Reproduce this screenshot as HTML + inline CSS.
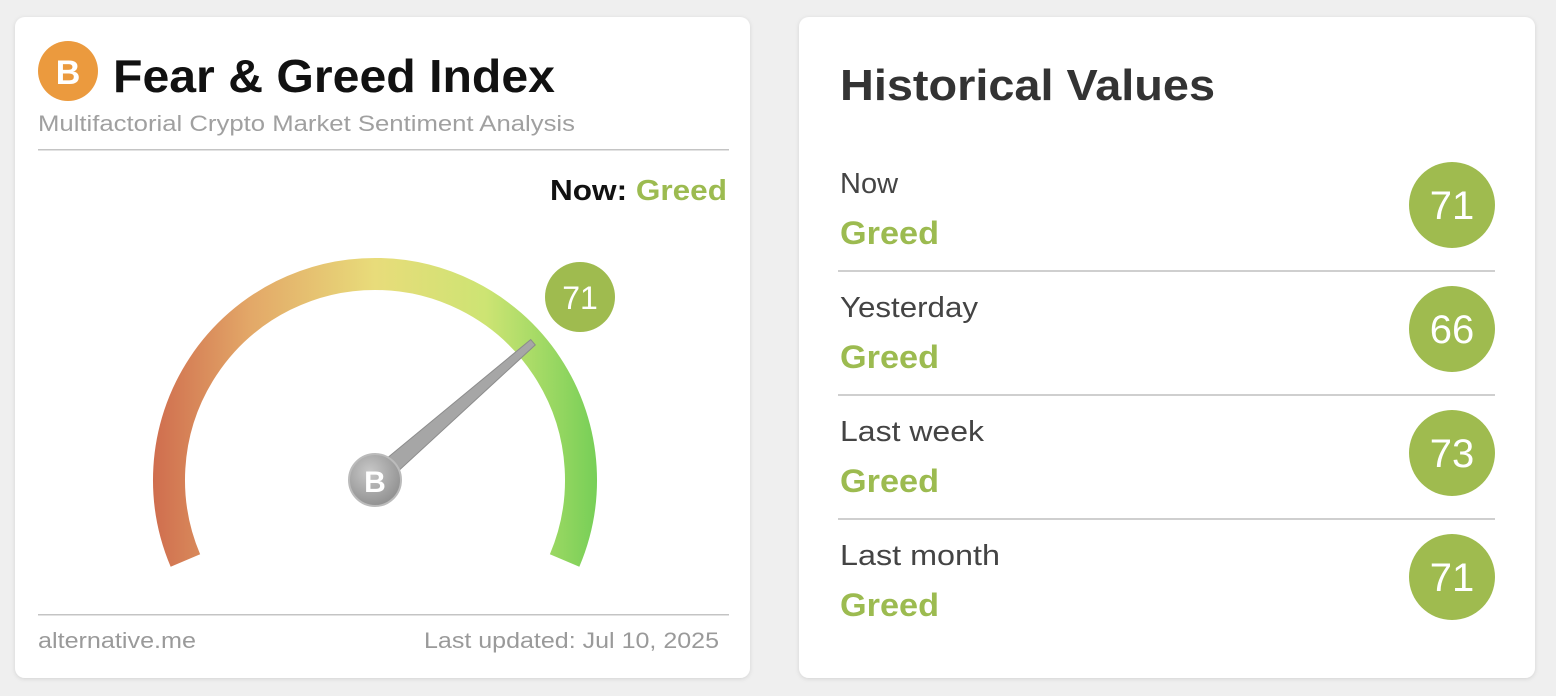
<!DOCTYPE html>
<html><head><meta charset="utf-8"><style>
html,body{margin:0;padding:0;background:#efefef;width:1556px;height:696px;overflow:hidden}
text{font-family:"Liberation Sans",sans-serif}
</style></head><body>
<svg width="1556" height="696" viewBox="0 0 1556 696" xmlns="http://www.w3.org/2000/svg">
<defs>
<linearGradient id="g" x1="153" y1="0" x2="597" y2="0" gradientUnits="userSpaceOnUse">
<stop offset="0" stop-color="#cf6d4e"/>
<stop offset="0.22" stop-color="#e3a868"/>
<stop offset="0.5" stop-color="#e8dc7a"/>
<stop offset="0.75" stop-color="#cde473"/>
<stop offset="1" stop-color="#77cf57"/>
</linearGradient>
<radialGradient id="hub" cx="0.4" cy="0.35" r="0.7">
<stop offset="0" stop-color="#c8c8c8"/><stop offset="1" stop-color="#8e8e8e"/>
</radialGradient>
<filter id="sh" x="-5%" y="-5%" width="110%" height="110%"><feDropShadow dx="0" dy="1" stdDeviation="2" flood-color="#000" flood-opacity="0.12"/></filter>
</defs>
<rect x="15" y="17" width="735" height="661" rx="10" fill="#fff" filter="url(#sh)"/>
<rect x="799" y="17" width="736" height="661" rx="10" fill="#fff" filter="url(#sh)"/>

<circle cx="68" cy="71" r="30" fill="#eb9a3e"/>
<text x="68" y="84" font-size="34" font-weight="bold" fill="#fff" text-anchor="middle">B</text>
<text x="113" y="92" font-size="46" font-weight="bold" fill="#111" textLength="442" lengthAdjust="spacingAndGlyphs">Fear &amp; Greed Index</text>
<text x="38" y="131" font-size="22" fill="#a0a0a0" textLength="537" lengthAdjust="spacingAndGlyphs">Multifactorial Crypto Market Sentiment Analysis</text>
<rect x="38" y="149" width="691" height="1.5" fill="#c4c4c4"/>
<text x="727" y="200" font-size="29" font-weight="bold" text-anchor="end" fill="#111" textLength="177" lengthAdjust="spacingAndGlyphs">Now: <tspan fill="#9cbb50">Greed</tspan></text>

<path d="M185.4 560.5 A206 206 0 1 1 564.6 560.5" fill="none" stroke="url(#g)" stroke-width="32"/>
<circle cx="580" cy="297" r="35" fill="#9fbb4f"/>
<text x="580" y="309" font-size="32" fill="#fff" text-anchor="middle">71</text>
<polygon points="381,487 369,473 530.7,339.6 535.3,344.9" fill="#a6a6a6" stroke="#8c8c8c" stroke-width="1"/>
<circle cx="375" cy="480" r="26" fill="url(#hub)" stroke="#bbb" stroke-width="2"/>
<text x="375" y="492" font-size="30" font-weight="bold" fill="#fff" text-anchor="middle">B</text>

<rect x="38" y="614" width="691" height="1.5" fill="#c4c4c4"/>
<text x="38" y="648" font-size="22" fill="#9a9a9a" textLength="158" lengthAdjust="spacingAndGlyphs">alternative.me</text>
<text x="424" y="648" font-size="22" fill="#9a9a9a" textLength="295" lengthAdjust="spacingAndGlyphs">Last updated: Jul 10, 2025</text>

<text x="840" y="100" font-size="44" font-weight="bold" fill="#333" textLength="375" lengthAdjust="spacingAndGlyphs">Historical Values</text>
<g font-size="29">
<text x="840" y="193" fill="#444">Now</text>
<text x="840" y="244" font-size="32" font-weight="bold" fill="#9cbb50" textLength="99" lengthAdjust="spacingAndGlyphs">Greed</text>
<circle cx="1452" cy="205" r="43" fill="#9fbb4f"/>
<text x="1452" y="219" font-size="40" fill="#fff" text-anchor="middle">71</text>
<rect x="838" y="270" width="657" height="2" fill="#cfcfcf"/>

<text x="840" y="317" fill="#444" textLength="138" lengthAdjust="spacingAndGlyphs">Yesterday</text>
<text x="840" y="368" font-size="32" font-weight="bold" fill="#9cbb50" textLength="99" lengthAdjust="spacingAndGlyphs">Greed</text>
<circle cx="1452" cy="329" r="43" fill="#9fbb4f"/>
<text x="1452" y="343" font-size="40" fill="#fff" text-anchor="middle">66</text>
<rect x="838" y="394" width="657" height="2" fill="#cfcfcf"/>

<text x="840" y="441" fill="#444" textLength="144" lengthAdjust="spacingAndGlyphs">Last week</text>
<text x="840" y="492" font-size="32" font-weight="bold" fill="#9cbb50" textLength="99" lengthAdjust="spacingAndGlyphs">Greed</text>
<circle cx="1452" cy="453" r="43" fill="#9fbb4f"/>
<text x="1452" y="467" font-size="40" fill="#fff" text-anchor="middle">73</text>
<rect x="838" y="518" width="657" height="2" fill="#cfcfcf"/>

<text x="840" y="565" fill="#444" textLength="160" lengthAdjust="spacingAndGlyphs">Last month</text>
<text x="840" y="616" font-size="32" font-weight="bold" fill="#9cbb50" textLength="99" lengthAdjust="spacingAndGlyphs">Greed</text>
<circle cx="1452" cy="577" r="43" fill="#9fbb4f"/>
<text x="1452" y="591" font-size="40" fill="#fff" text-anchor="middle">71</text>
</g>
</svg>
</body></html>
